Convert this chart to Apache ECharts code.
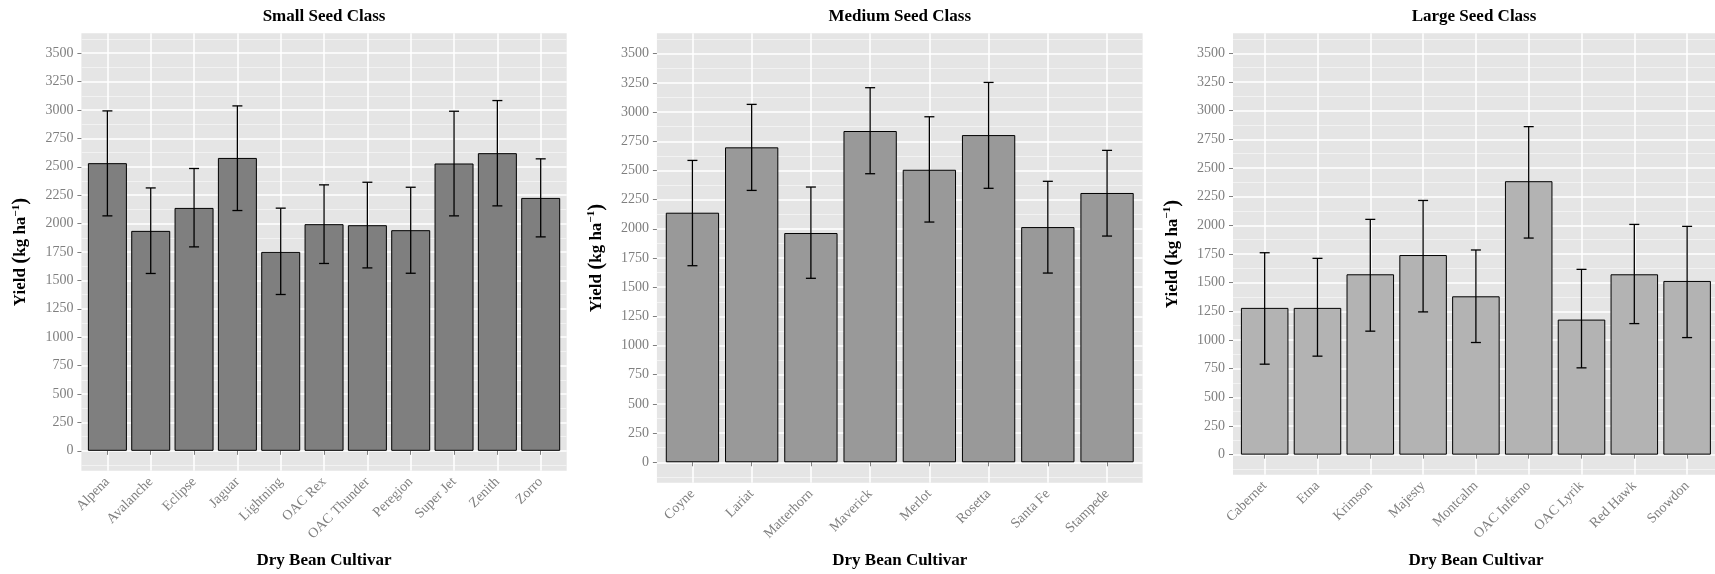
<!DOCTYPE html>
<html>
<head>
<meta charset="utf-8">
<title>Dry bean yield by seed class</title>
<script src="https://cdn.jsdelivr.net/npm/echarts@6/dist/echarts.min.js"></script>
<style>
html, body { margin: 0; padding: 0; background: #fff; }
#chart { width: 1715px; height: 574px; }
</style>
</head>
<body>
<div id="chart"></div>
<script>
// data (kg/ha): mean, lower and upper end of error bar
var smallNames = ["Alpena", "Avalanche", "Eclipse", "Jaguar", "Lightning", "OAC Rex", "OAC Thunder", "Peregion", "Super Jet", "Zenith", "Zorro"];
var smallMean = [2532, 1936, 2138, 2578, 1751, 1995, 1986, 1942, 2529, 2620, 2226];
var smallLow = [2068, 1561, 1795, 2115, 1376, 1649, 1610, 1563, 2068, 2156, 1883];
var smallHigh = [2992, 2314, 2485, 3036, 2136, 2341, 2364, 2320, 2989, 3083, 2570];

var mediumNames = ["Coyne", "Lariat", "Matterhorn", "Maverick", "Merlot", "Rosetta", "Santa Fe", "Stampede"];
var mediumMean = [2138, 2698, 1964, 2838, 2506, 2803, 2015, 2307];
var mediumLow = [1684, 2329, 1576, 2472, 2058, 2347, 1621, 1938];
var mediumHigh = [2586, 3066, 2358, 3209, 2960, 3254, 2407, 2672];

var largeNames = ["Cabernet", "Etna", "Krimson", "Majesty", "Montcalm", "OAC Inferno", "OAC Lyrik", "Red Hawk", "Snowdon"];
var largeMean = [1280, 1280, 1573, 1741, 1381, 2385, 1178, 1573, 1515];
var largeLow = [789, 859, 1077, 1245, 978, 1889, 757, 1143, 1021];
var largeHigh = [1761, 1712, 2052, 2217, 1785, 2861, 1616, 2008, 1991];

var yTicks = [0, 250, 500, 750, 1000, 1250, 1500, 1750, 2000, 2250, 2500, 2750, 3000, 3250, 3500];
var yMinorTicks = [-125, 125, 375, 625, 875, 1125, 1375, 1625, 1875, 2125, 2375, 2625, 2875, 3125, 3375, 3625];
var yMin = -175, yMax = 3675;

var SERIF = "'Liberation Serif', 'Times New Roman', serif";
var GREY = "#7f7f7f";

// panel layout (px)
var panels = [
  { title: "Small Seed Class", names: smallNames, mean: smallMean, low: smallLow, high: smallHigh,
    fill: "#7f7f7f", left: 81.4, top: 33.3, width: 485.3, height: 437.4, xGap: 81 },
  { title: "Medium Seed Class", names: mediumNames, mean: mediumMean, low: mediumLow, high: mediumHigh,
    fill: "#999999", left: 656.9, top: 33.3, width: 485.7, height: 449.4, xGap: 69 },
  { title: "Large Seed Class", names: largeNames, mean: largeMean, low: largeLow, high: largeHigh,
    fill: "#b3b3b3", left: 1233, top: 33.3, width: 485.8, height: 441.4, xGap: 77 }
];

var errStyle = { stroke: "#000", lineWidth: 1.3 };
function renderErrorBar(params, api) {
  var top = api.coord([api.value(0), api.value(2)]);
  var bot = api.coord([api.value(0), api.value(1)]);
  var h = 5;
  return {
    type: "group",
    children: [
      { type: "line", shape: { x1: top[0], y1: top[1], x2: bot[0], y2: bot[1] }, style: errStyle },
      { type: "line", shape: { x1: top[0] - h, y1: top[1], x2: top[0] + h, y2: top[1] }, style: errStyle },
      { type: "line", shape: { x1: bot[0] - h, y1: bot[1], x2: bot[0] + h, y2: bot[1] }, style: errStyle }
    ]
  };
}

var boldText = { fontFamily: SERIF, fontWeight: "bold", color: "#000" };
var grid = [], xAxis = [], yAxis = [], series = [];
panels.forEach(function (p, i) {
  var n = p.names.length;
  var unit = p.width / (n + 0.2);
  // outer grid = ggplot panel background
  grid.push({ left: p.left, top: p.top, width: p.width, height: p.height, show: true,
    backgroundColor: "#e5e5e5", borderWidth: 0 });
  // inner grid spans from first to last category centre
  grid.push({ left: p.left + 0.6 * unit, top: p.top, width: unit * (n - 1), height: p.height });

  xAxis.push({
    type: "value", gridIndex: 2 * i, position: "top", min: 0, max: 1,
    name: p.title, nameLocation: "middle", nameGap: 8,
    nameTextStyle: Object.assign({ fontSize: 17 }, boldText),
    axisLine: { show: false }, axisTick: { show: false }, axisLabel: { show: false }, splitLine: { show: false }
  });
  xAxis.push({
    type: "category", gridIndex: 2 * i + 1, data: p.names, boundaryGap: false,
    name: "Dry Bean Cultivar", nameLocation: "middle", nameGap: p.xGap,
    nameTextStyle: Object.assign({ fontSize: 17 }, boldText),
    axisLine: { show: false },
    axisTick: { show: true, length: 4, lineStyle: { color: GREY, width: 1 } },
    axisLabel: { interval: 0, rotate: 45, margin: 9, fontFamily: SERIF, fontSize: 14, color: GREY },
    splitLine: { show: true, lineStyle: { color: "#ffffff", width: 1.5 } }
  });

  yAxis.push({
    type: "value", gridIndex: 2 * i, min: yMin, max: yMax,
    name: "{a|Yield }{p|(}{a|kg ha}{s|−1}{p|)}", nameLocation: "middle", nameGap: 50,
    nameTextStyle: { rich: {
      a: Object.assign({ fontSize: 17 }, boldText),
      p: Object.assign({ fontSize: 21 }, boldText),
      s: Object.assign({ fontSize: 11, verticalAlign: "top" }, boldText)
    } },
    axisLine: { show: false },
    axisTick: { show: true, length: 4, customValues: yTicks, lineStyle: { color: GREY, width: 1 } },
    axisLabel: { customValues: yTicks, margin: 8, fontFamily: SERIF, fontSize: 14, color: GREY,
      formatter: function (v) { return String(v); } },
    splitLine: { show: true, lineStyle: { color: "#ffffff", width: 1.5 } }
  });
  yAxis.push({
    type: "value", gridIndex: 2 * i, min: yMin, max: yMax,
    axisLine: { show: false },
    axisTick: { show: false, customValues: yMinorTicks },
    axisLabel: { show: false, customValues: yMinorTicks },
    splitLine: { show: true, lineStyle: { color: "#f2f2f2", width: 1 } }
  });
  yAxis.push({
    type: "value", gridIndex: 2 * i + 1, min: yMin, max: yMax, show: false,
    splitLine: { show: false }
  });

  series.push({
    type: "bar", xAxisIndex: 2 * i + 1, yAxisIndex: 3 * i + 2,
    data: p.mean, barWidth: "90%", clip: false,
    itemStyle: { color: p.fill, borderColor: "#000", borderWidth: 1 },
    silent: true
  });
  series.push({
    type: "custom", xAxisIndex: 2 * i + 1, yAxisIndex: 3 * i + 2,
    renderItem: renderErrorBar, z: 5, silent: true,
    data: p.names.map(function (nm, k) { return [k, p.low[k], p.high[k]]; })
  });
});

var chart = echarts.init(document.getElementById("chart"));
chart.setOption({
  animation: false,
  grid: grid,
  xAxis: xAxis,
  yAxis: yAxis,
  series: series
});
</script>
</body>
</html>
